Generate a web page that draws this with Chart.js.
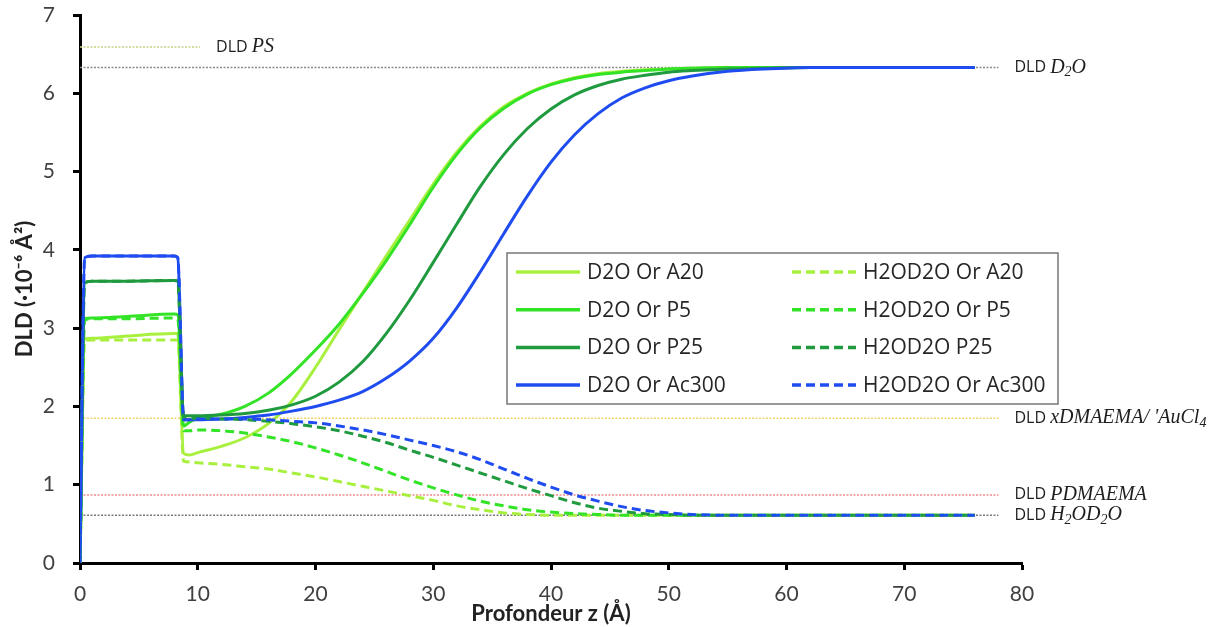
<!DOCTYPE html>
<html>
<head>
<meta charset="utf-8">
<script src="https://cdn.jsdelivr.net/npm/chart.js"></script>
<style>
body{margin:0;background:#fff;}
</style>
</head>
<body>
<canvas id="grafico" width="1223" height="627"></canvas>
<script>
// profondeur z (Å)
const depth = [0, 0.4, 1, 4, 8, 8.3, 8.8, 9.3, 10, 12, 14, 16, 18, 20, 22, 24, 26, 28, 30, 32, 34, 36, 38, 40, 42, 44, 46, 48, 50, 52, 55, 58, 62, 66, 70, 76];

// DLD (10^-6 Å^-2), solvant D2O
const d2oA20   = [0, 2.86, 2.87, 2.9, 2.93, 2.93, 1.4, 1.38, 1.41, 1.49, 1.6, 1.78, 2.07, 2.5, 2.98, 3.45, 3.92, 4.38, 4.84, 5.25, 5.58, 5.83, 6.0, 6.12, 6.2, 6.25, 6.28, 6.3, 6.31, 6.32, 6.33, 6.33, 6.33, 6.33, 6.33, 6.33];
const d2oP5    = [0, 3.12, 3.13, 3.15, 3.18, 3.17, 1.75, 1.8, 1.85, 1.9, 2.0, 2.17, 2.42, 2.72, 3.05, 3.44, 3.86, 4.32, 4.8, 5.22, 5.56, 5.81, 5.99, 6.11, 6.19, 6.24, 6.27, 6.29, 6.31, 6.32, 6.33, 6.33, 6.33, 6.33, 6.33, 6.33];
const d2oP25   = [0, 3.58, 3.6, 3.6, 3.61, 3.6, 1.88, 1.88, 1.88, 1.89, 1.91, 1.95, 2.02, 2.13, 2.31, 2.57, 2.93, 3.36, 3.84, 4.33, 4.81, 5.22, 5.55, 5.8, 5.98, 6.1, 6.18, 6.23, 6.27, 6.29, 6.31, 6.32, 6.33, 6.33, 6.33, 6.33];
const d2oAc300 = [0, 3.9, 3.92, 3.92, 3.92, 3.9, 1.83, 1.83, 1.83, 1.84, 1.86, 1.89, 1.94, 2.0, 2.08, 2.19, 2.36, 2.58, 2.87, 3.26, 3.72, 4.21, 4.69, 5.12, 5.47, 5.74, 5.94, 6.07, 6.16, 6.22, 6.28, 6.31, 6.33, 6.33, 6.33, 6.33];

// solvant H2O/D2O
const mixA20   = [0, 2.84, 2.85, 2.85, 2.85, 2.85, 1.3, 1.29, 1.28, 1.26, 1.23, 1.2, 1.15, 1.1, 1.04, 0.98, 0.92, 0.86, 0.8, 0.73, 0.68, 0.64, 0.62, 0.61, 0.61, 0.61, 0.61, 0.61, 0.61, 0.61, 0.61, 0.61, 0.61, 0.61, 0.61, 0.61];
const mixP5    = [0, 3.1, 3.12, 3.12, 3.13, 3.12, 1.69, 1.69, 1.7, 1.69, 1.66, 1.61, 1.55, 1.47, 1.38, 1.28, 1.17, 1.06, 0.96, 0.87, 0.79, 0.73, 0.68, 0.65, 0.63, 0.62, 0.61, 0.61, 0.61, 0.61, 0.61, 0.61, 0.61, 0.61, 0.61, 0.61];
const mixP25   = [0, 3.58, 3.6, 3.6, 3.61, 3.6, 1.86, 1.85, 1.85, 1.84, 1.83, 1.81, 1.78, 1.74, 1.69, 1.62, 1.54, 1.44, 1.35, 1.25, 1.15, 1.05, 0.95, 0.86, 0.77, 0.7, 0.66, 0.63, 0.62, 0.61, 0.61, 0.61, 0.61, 0.61, 0.61, 0.61];
const mixAc300 = [0, 3.9, 3.92, 3.92, 3.92, 3.9, 1.83, 1.83, 1.84, 1.84, 1.84, 1.83, 1.81, 1.79, 1.75, 1.7, 1.64, 1.57, 1.5, 1.42, 1.32, 1.2, 1.08, 0.97, 0.87, 0.79, 0.72, 0.67, 0.64, 0.62, 0.61, 0.61, 0.61, 0.61, 0.61, 0.61];

const seriesNames = ["D2O Or A20", "D2O Or P5", "D2O Or P25", "D2O Or Ac300",
                     "H2OD2O Or A20", "H2OD2O Or P5", "H2OD2O P25", "H2OD2O Or Ac300"];
const seriesValues = [d2oA20, d2oP5, d2oP25, d2oAc300, mixA20, mixP5, mixP25, mixAc300];
const seriesColors = ["#a8f03e", "#33e326", "#1f9a3e", "#1f4cf0"];

// niveaux DLD de référence
const refMath   = ["PS", "D_2O", "xDMAEMA/ 'AuCl_4", "PDMAEMA", "H_2OD_2O"];
const refLevels = [6.59, 6.33, 1.85, 0.87, 0.61];
const refEnds   = [10.2, 78, 78, 78, 78];
const refColors = ["#c8cf84", "#8a8a8a", "#f2d56a", "#f08a8a", "#7a7a7a"];

const xTicks = [0, 10, 20, 30, 40, 50, 60, 70, 80];
const yTicks = [0, 1, 2, 3, 4, 5, 6, 7];

const pts = vals => depth.map((z, i) => ({x: z, y: vals[i]}));

const datasets = seriesValues.map((vals, i) => ({
  label: seriesNames[i],
  data: pts(vals),
  borderColor: seriesColors[i % 4],
  borderWidth: 3,
  borderDash: i >= 4 ? [9, 5] : [],
  pointRadius: 0,
  cubicInterpolationMode: "monotone",
  fill: false,
  order: 20 - i
}));

refLevels.forEach((lv, i) => {
  datasets.push({
    label: "DLD " + refMath[i],
    data: [{x: 0, y: lv}, {x: refEnds[i], y: lv}],
    borderColor: refColors[i],
    borderWidth: 1.5,
    borderDash: [2, 1.5],
    pointRadius: 0,
    tension: 0,
    order: 100
  });
});

const legendBox = {
  id: "legendBox",
  afterDatasetsDraw(chart) {
    const ctx = chart.ctx;
    const bx = 507, by = 253, bw = 551, bh = 151;
    ctx.save();
    ctx.fillStyle = "#fff";
    ctx.fillRect(bx, by, bw, bh);
    ctx.strokeStyle = "#777";
    ctx.lineWidth = 1.5;
    ctx.strokeRect(bx, by, bw, bh);
    chart.data.datasets.slice(0, 8).forEach((ds, i) => {
      const col = Math.floor(i / 4), row = i % 4;
      const sx = bx + 9 + col * 276;
      const sy = by + 19 + row * 37.7;
      ctx.setLineDash(ds.borderDash);
      ctx.strokeStyle = ds.borderColor;
      ctx.lineWidth = 3.5;
      ctx.beginPath(); ctx.moveTo(sx, sy); ctx.lineTo(sx + 64, sy); ctx.stroke();
      ctx.setLineDash([]);
      ctx.fillStyle = "#262626";
      ctx.font = '21px "Open Sans"';
      ctx.textBaseline = "middle";
      ctx.fillText(ds.label, sx + 71, sy + 1);
    });
    ctx.restore();
  }
};

function drawMath(ctx, txt, x, y) {
  for (let k = 0; k < txt.length; k++) {
    let c = txt[k];
    if (c === "_") {
      c = txt[++k];
      ctx.font = 'italic 14px "Liberation Serif"';
      ctx.fillText(c, x, y + 5);
    } else {
      ctx.font = 'italic 20px "Liberation Serif"';
      ctx.fillText(c, x, y);
    }
    x += ctx.measureText(c).width;
  }
}

const refLabels = {
  id: "refLabels",
  afterDraw(chart) {
    const {ctx, scales: {x, y}} = chart;
    ctx.save();
    ctx.fillStyle = "#1e1e1e";
    ctx.textBaseline = "middle";
    refLevels.forEach((lv, i) => {
      const px = x.getPixelForValue(refEnds[i]) + 16;
      const py = y.getPixelForValue(lv);
      ctx.font = '16px "Open Sans"';
      ctx.fillText("DLD ", px, py);
      drawMath(ctx, refMath[i], px + ctx.measureText("DLD ").width, py);
    });
    ctx.restore();
  }
};

new Chart(grafico, {
  type: "line",
  data: {datasets},
  plugins: [legendBox, refLabels],
  options: {
    responsive: false,
    animation: false,
    layout: {padding: {top: 15, right: 201, left: 0, bottom: 0}},
    plugins: {legend: {display: false}, tooltip: {enabled: false}},
    scales: {
      x: {
        type: "linear", min: 0, max: 80,
        afterBuildTicks: s => { s.ticks = xTicks.map(v => ({value: v})); },
        afterFit: s => { s.height = 64; s.paddingLeft = 0; s.paddingRight = 0; },
        border: {color: "#000", width: 3},
        grid: {drawOnChartArea: false, tickColor: "#000", tickWidth: 3, tickLength: 7},
        ticks: {color: "#404040", font: {family: "Lato", size: 21}, padding: 12, maxRotation: 0},
        title: {display: true, text: "Profondeur z (Å)", color: "#222",
                font: {family: "Lato", size: 22, weight: "bold"}, padding: {top: 1, bottom: 0}}
      },
      y: {
        min: 0, max: 7,
        afterBuildTicks: s => { s.ticks = yTicks.map(v => ({value: v})); },
        afterFit: s => { s.width = 80; s.paddingTop = 0; s.paddingBottom = 0; },
        border: {color: "#000", width: 3},
        grid: {drawOnChartArea: false, tickColor: "#000", tickWidth: 3, tickLength: 7},
        ticks: {color: "#404040", font: {family: "Lato", size: 21}, padding: 18},
        title: {display: true, text: "DLD (·10⁻⁶ Å²)", color: "#222",
                font: {family: "Lato", size: 22, weight: "bold"}, padding: {top: 12, bottom: 0}}
      }
    }
  }
});
</script>
</body>
</html>
